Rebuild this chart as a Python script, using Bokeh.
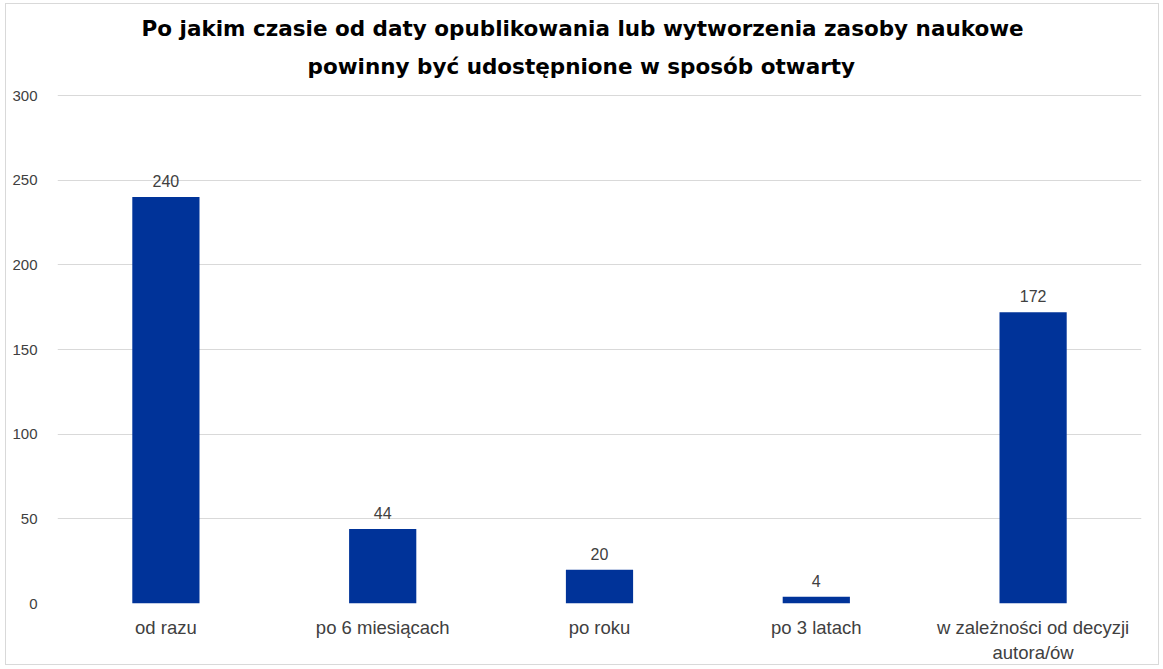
from bokeh.plotting import figure
from bokeh.models import ColumnDataSource, Range1d, FactorRange, SingleIntervalTicker, LabelSet, Title
from bokeh.core.properties import value
from bokeh.embed import file_html
from bokeh.resources import INLINE

categories = ["od razu", "po 6 miesiącach", "po roku", "po 3 latach", "w zależności od decyzji\nautora/ów"]
values = [240, 44, 20, 4, 172]
title_lines = ["Po jakim czasie od daty opublikowania lub wytworzenia zasoby naukowe",
               "powinny być udostępnione w sposób otwarty"]

src = ColumnDataSource(dict(cat=categories, val=values, lab=[str(v) for v in values]))

W, H = 1154, 662
FL, FR, FT, FB = 51, 19, 90, 63
p = figure(x_range=FactorRange(*categories, range_padding=0), y_range=Range1d(0, 300.6),
           width=W, height=H, output_backend="svg", toolbar_location=None,
           min_border_left=FL, min_border_right=FR, min_border_bottom=FB, min_border_top=FT)
p.margin = (3, 0, 0, 5)

p.vbar(x="cat", top="val", width=0.31, source=src, fill_color="#003399", line_color=None)
p.add_layout(LabelSet(x="cat", y="val", text="lab", source=src, y_offset=10, text_align="center",
                      text_baseline="bottom", text_font=value("Liberation Sans"), text_font_size="16px",
                      text_color="#404040"))

offsets = [84, 250]
standoffs = [-9, 31]
for i in (1, 0):
    p.add_layout(Title(text=title_lines[i], align="left", offset=offsets[i], standoff=standoffs[i],
                       text_font="DejaVu Sans", text_font_style="bold",
                       text_font_size="21.5px", text_color="#000000"), "above")

p.yaxis.ticker = SingleIntervalTicker(interval=50)
for ax in (p.xaxis, p.yaxis):
    ax.axis_line_color = None
    ax.major_tick_line_color = None
    ax.minor_tick_line_color = None
    ax.major_label_text_font = "Liberation Sans"
    ax.major_label_text_color = "#404040"
p.xaxis.major_label_text_font_size = "18.5px"
p.yaxis.major_label_text_font_size = "15px"
p.yaxis.major_label_standoff = 14
p.xaxis.major_label_standoff = 7
p.xgrid.grid_line_color = None
p.ygrid.grid_line_color = "#d9d9d9"
p.ygrid.grid_line_width = 1
p.outline_line_color = None
p.styles = {"border": "1px solid #d9d9d9"}

open("out.html", "w").write(file_html(p, INLINE))
